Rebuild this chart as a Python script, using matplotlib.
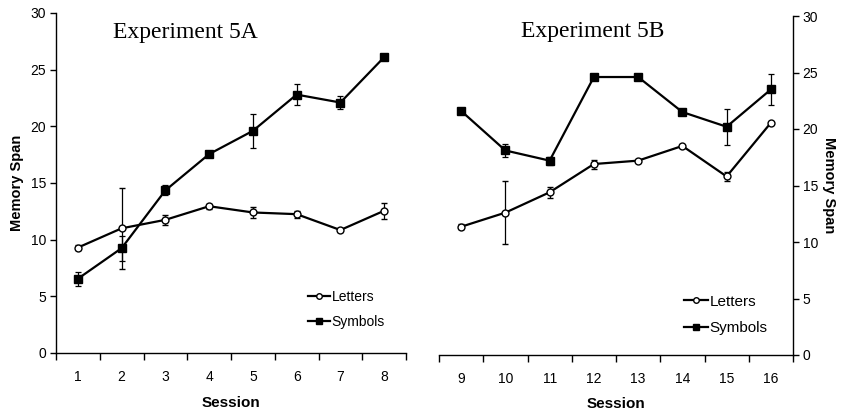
import matplotlib
matplotlib.use("Agg")
import matplotlib.pyplot as plt
from matplotlib.lines import Line2D
import numpy as np

sessions_a = [1, 2, 3, 4, 5, 6, 7, 8]
letters_a = [9.3, 11.0, 11.75, 12.95, 12.4, 12.25, 10.85, 12.55]
letters_a_err = [0.25, 3.6, 0.45, 0.2, 0.5, 0.3, 0.2, 0.7]
symbols_a = [6.55, 9.25, 14.35, 17.55, 19.6, 22.8, 22.1, 26.1]
symbols_a_err = [0.6, 1.1, 0.45, 0.15, 1.5, 0.9, 0.6, 0.2]

sessions_b = [9, 10, 11, 12, 13, 14, 15, 16]
letters_b = [11.35, 12.6, 14.4, 16.9, 17.2, 18.5, 15.8, 20.55]
letters_b_err = [0.2, 2.8, 0.5, 0.4, 0.1, 0.1, 0.4, 0.1]
symbols_b = [21.6, 18.1, 17.2, 24.6, 24.6, 21.5, 20.2, 23.5]
symbols_b_err = [0.1, 0.6, 0.35, 0.1, 0.1, 0.1, 1.6, 1.4]

yticks = [0, 5, 10, 15, 20, 25, 30]

sans = "Liberation Sans"
serif = "Liberation Serif"

fig = plt.figure(figsize=(8.41, 4.13), dpi=100)
ax1 = fig.add_axes([56/841, 60/413, 350/841, 340/413])
ax2 = fig.add_axes([439/841, 58/413, 354/841, 339/413])


def draw(ax, sessions, letters, lerr, symbols, serr, side, title, title_x, title_y,
         legend_anchor, legsize, xlabelpad):
    x = np.arange(1, len(sessions) + 1)
    ax.errorbar(x, symbols, yerr=serr, color="black", lw=1.6, marker="s", ms=5.5,
                mfc="black", mec="black", ecolor="black", elinewidth=0.9, capsize=2.5,
                capthick=0.9, zorder=3)
    ax.errorbar(x, letters, yerr=lerr, color="black", lw=1.6, marker="o", ms=5,
                mfc="white", mec="black", mew=1.0, ecolor="black", elinewidth=0.9,
                capsize=2.5, capthick=0.9, zorder=4)
    ax.set_xlim(0.5, len(sessions) + 0.5)
    ax.set_ylim(0, 30)
    ax.set_yticks(yticks)
    ax.set_yticklabels([str(t) for t in yticks], fontfamily=sans, fontsize=10)
    ax.set_xticks(np.arange(0.5, len(sessions) + 1, 1))
    ax.set_xticklabels([])
    ax.set_xticks(x, minor=True)
    ax.set_xticklabels([str(s) for s in sessions], minor=True, fontfamily=sans, fontsize=10)
    ax.tick_params(axis="x", which="major", direction="out", length=5, width=1)
    ax.tick_params(axis="x", which="minor", length=0, pad=12)
    ax.tick_params(axis="y", direction="out", length=4, width=1, pad=3)
    ax.spines["top"].set_visible(False)
    if side == "left":
        ax.spines["right"].set_visible(False)
        ax.set_ylabel("Memory Span", fontfamily=sans, fontweight="bold", fontsize=10.5, labelpad=5)
    else:
        ax.spines["left"].set_visible(False)
        ax.yaxis.tick_right()
        ax.yaxis.set_label_position("right")
        ax.set_ylabel("Memory Span", fontfamily=sans, fontweight="bold", fontsize=10.5,
                      rotation=-90, labelpad=13)
    for s in ["left", "right", "bottom"]:
        ax.spines[s].set_linewidth(1)
    ax.set_xlabel("Session", fontfamily=sans, fontweight="bold", fontsize=11, labelpad=xlabelpad)
    ax.text(title_x, title_y, title, transform=ax.transAxes, fontfamily=serif,
            fontsize=17, ha="center", va="center")
    handles = [
        Line2D([], [], color="black", lw=1.6, marker="o", ms=4, mfc="white", mec="black"),
        Line2D([], [], color="black", lw=1.6, marker="s", ms=4.5, mfc="black", mec="black"),
    ]
    ax.legend(handles, ["Letters", "Symbols"], loc="upper left",
              bbox_to_anchor=legend_anchor, frameon=False,
              prop={"family": sans, "size": legsize}, handlelength=1.6,
              handletextpad=0.1, labelspacing=0.8, borderpad=0)


draw(ax1, sessions_a, letters_a, letters_a_err, symbols_a, symbols_a_err, "left",
     "Experiment 5A", 0.37, 0.942, (0.70, 0.205), 10, 9)
draw(ax2, sessions_b, letters_b, letters_b_err, symbols_b, symbols_b_err, "right",
     "Experiment 5B", 0.435, 0.955, (0.67, 0.20), 11, 8.5)

fig.savefig("out.png", dpi=100)
